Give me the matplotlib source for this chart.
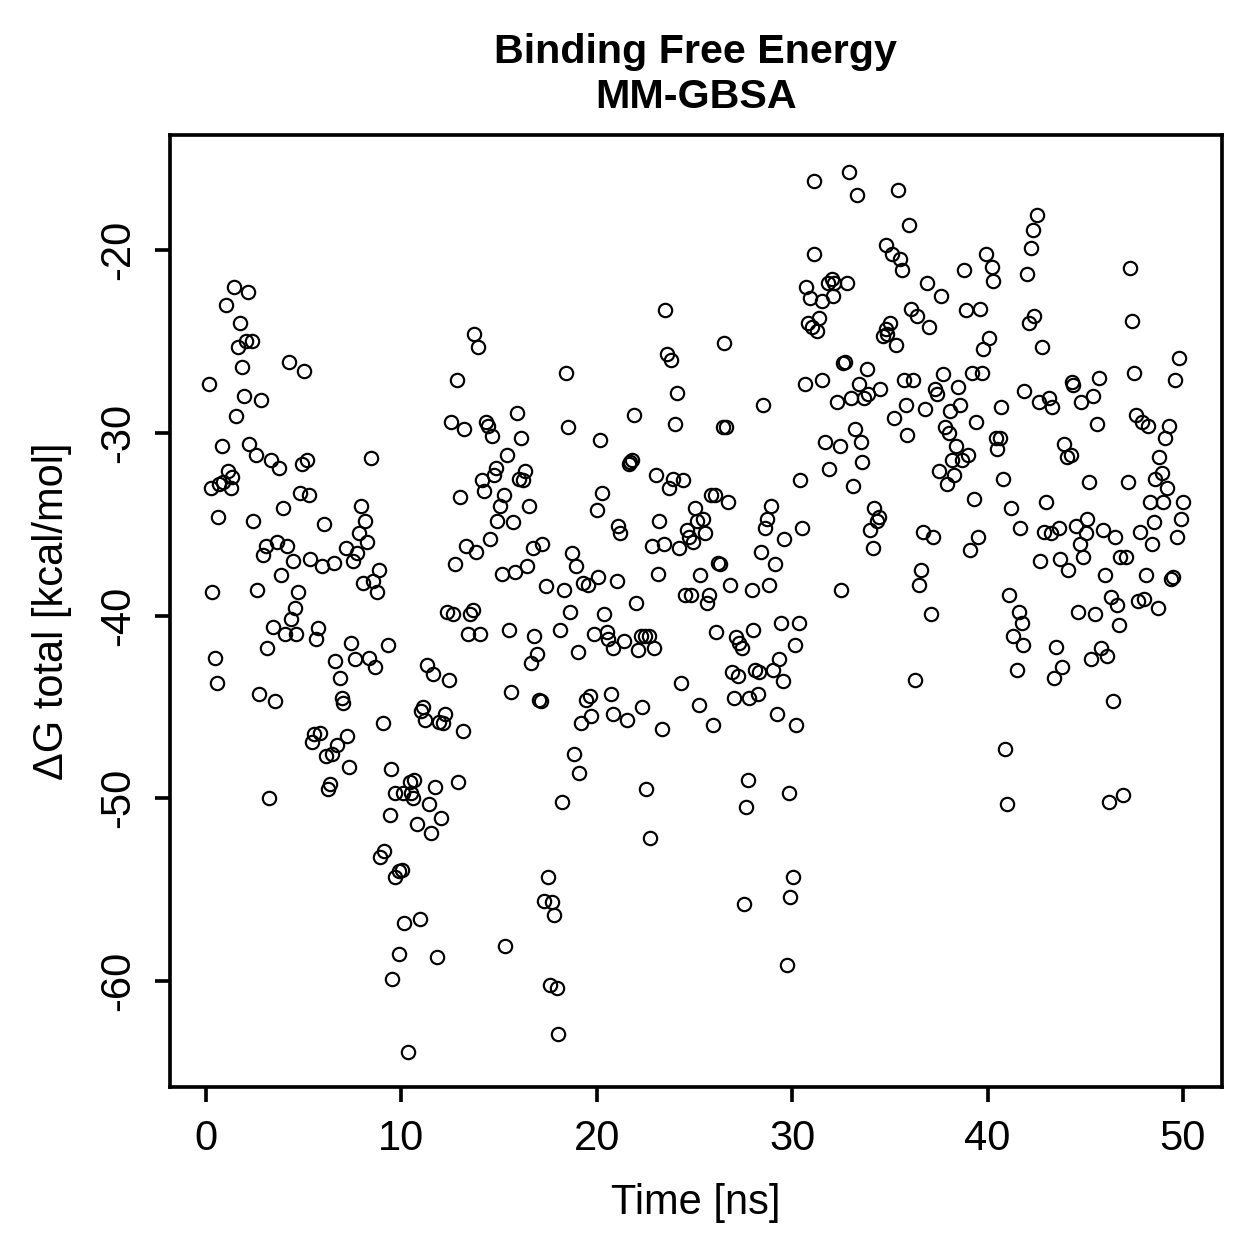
import matplotlib
matplotlib.use("Agg")
import matplotlib.pyplot as plt

plt.rcParams['font.family'] = ['Liberation Sans', 'DejaVu Sans']
plt.rcParams['axes.unicode_minus'] = False

#------- Data -------
# time [ns]
time_ns = [
    0.15, 0.26, 0.31, 0.61, 0.67, 0.82, 0.87, 1.02, 1.13, 1.28, 1.33, 1.43, 1.54, 1.64, 1.74, 1.84,
    1.94, 2.05, 2.15, 2.20, 2.35, 2.41, 2.56, 2.61, 2.81, 2.92, 3.07, 3.33, 3.63, 3.74, 3.84, 3.94,
    4.15, 4.25, 4.45, 4.55, 4.71, 4.81, 4.91, 5.02, 5.17, 5.27, 5.32, 5.94, 6.04, 6.55, 7.16, 7.52,
    7.73, 7.83, 7.93, 8.03, 8.14, 8.24, 8.44, 8.55, 8.75, 8.85,
    4.35, 3.43, 4.04, 4.61, 5.73, 5.63, 7.42, 9.31, 8.34, 8.65, 7.63, 6.60, 0.46, 3.12, 6.86, 0.56,
    2.71, 3.53, 6.96, 7.01, 9.06, 5.53, 5.83, 5.42, 7.22, 6.70, 6.45, 6.14, 7.32, 9.47, 6.35, 6.24,
    3.22, 9.67, 9.42, 9.11, 8.90, 10.03, 9.88, 9.67, 10.13, 9.88, 9.52,
    13.72, 13.92, 12.85, 18.42, 15.92, 12.54, 13.20, 14.33, 14.43, 14.64, 16.12, 18.53, 20.16, 15.40,
    14.84, 14.74, 16.32, 16.02, 16.22, 14.12, 13.00, 14.23, 15.25, 15.05, 16.53, 20.27, 20.01, 14.89,
    15.71, 14.53, 13.31, 13.82, 16.73, 17.20, 18.73, 18.94, 12.74, 15.15, 15.81, 16.43, 17.40, 18.32,
    19.29, 19.55, 20.06, 12.33, 12.64, 13.51, 13.66, 18.63, 20.37,
    13.41, 14.02, 15.51, 16.79, 18.12, 16.94, 16.63, 19.04, 19.86, 20.52, 20.57, 11.31, 11.62, 12.44,
    15.61, 17.04, 17.14, 19.45, 19.65, 19.70, 19.19, 20.73, 20.83, 11.11, 11.00, 11.21, 12.23, 11.92,
    12.13, 13.15, 18.83, 19.09, 10.64, 10.44, 10.08, 10.49, 10.59, 11.72, 12.90, 11.41, 12.03, 10.80,
    11.51, 18.22, 17.50, 17.30, 17.71, 17.81, 10.95, 15.30, 11.82, 17.60, 17.96, 18.01, 10.34,
    31.12, 31.12, 30.71, 30.91, 31.52, 30.81, 31.02, 31.37, 31.27, 30.66, 23.49, 23.59, 23.80, 26.51,
    24.10, 28.51, 21.90, 24.00, 26.46, 26.61, 21.65, 21.80, 21.70, 23.03, 23.90, 23.69, 24.41, 25.84,
    26.05, 26.71, 30.40, 25.03, 23.18, 25.13, 25.44, 28.92, 28.71, 28.61, 30.50, 29.58, 21.08, 21.19,
    24.62, 25.54, 24.72, 24.92, 24.21, 22.83, 23.44, 28.40, 29.12, 26.20, 26.31, 23.13, 25.28, 26.82,
    27.94, 28.81, 21.03, 22.01, 24.51, 24.82, 25.74, 25.64,
    29.43, 30.35, 20.83, 21.39, 22.26, 22.47, 22.67, 22.11, 22.93, 26.10, 27.12, 27.28, 27.43, 27.99,
    30.14, 29.32, 29.02, 29.53, 26.92, 27.23, 28.10, 28.30, 28.25, 27.79, 27.02, 24.31, 25.23, 25.95,
    29.22, 30.19, 21.55, 22.31, 23.34, 22.52, 27.74, 29.84, 27.64, 22.72, 30.04, 29.89, 27.53, 29.73,
    32.91, 33.32, 35.41, 35.98, 34.80, 35.11, 35.52, 35.62, 38.79, 39.92, 40.23, 40.28, 31.83, 32.04,
    32.14, 32.09, 32.80, 36.90, 37.62, 36.08, 36.39, 37.00, 38.89, 39.61, 40.07, 39.76, 34.80, 35.00,
    34.65, 34.85, 35.31, 32.60, 32.70, 33.83, 31.52, 33.42, 33.88, 33.67, 34.49, 32.29, 33.01, 35.72,
    36.18, 37.72, 37.31, 37.41, 38.48, 39.20, 39.71, 35.82, 36.80, 35.21, 38.08, 38.59, 39.41, 40.69,
    35.87, 37.82, 38.02, 38.38, 39.00, 38.18, 38.69, 37.51, 37.92, 38.28, 40.43, 40.63, 40.48, 40.79,
    33.21, 33.52, 31.68, 32.45, 33.57, 31.88, 33.11, 34.19, 34.44, 34.34, 33.98, 34.13, 36.69, 37.21,
    39.30, 41.20, 39.51, 39.10, 36.59, 36.49, 32.50, 41.09, 37.10, 41.86,
    41.30, 36.28, 40.89, 40.99,
    42.53, 42.32, 42.22, 42.02, 47.29, 42.37, 42.12, 42.78, 47.39, 49.80, 49.59, 47.49, 42.63, 43.14,
    43.30, 44.32, 44.37, 45.70, 45.39, 44.78, 45.60, 47.59, 47.90, 48.21, 49.28, 49.08, 43.91, 44.27,
    44.06, 48.77, 48.92, 48.57, 49.18, 45.19, 47.18, 42.99, 48.31, 48.98, 50.00, 49.90, 48.52, 49.69,
    48.41, 47.80, 41.66, 42.89, 43.24, 43.65, 44.52, 45.09, 45.04, 44.73, 44.88, 45.91, 46.52, 42.68,
    43.71, 44.11, 46.78, 47.08, 46.01, 48.11, 49.39, 49.49, 46.32, 46.62, 47.70, 48.00, 48.72, 44.63,
    45.50, 41.61,
    41.76, 46.72, 43.50, 45.80, 46.11, 45.29, 43.81, 43.40, 41.50, 46.42, 46.93, 46.21, 41.81,
]

# delta G total [kcal/mol]
dg_total = [
    -27.3, -33.0, -38.7, -34.6, -32.8, -30.7, -32.7, -23.0, -32.1, -33.0, -32.4, -22.0, -29.1, -25.3, -24.0, -26.4,
    -28.0, -25.0, -22.3, -30.6, -25.0, -34.8, -31.2, -38.6, -28.2, -36.7, -36.2, -31.5, -36.0, -31.9, -37.8, -34.1,
    -36.2, -26.1, -37.0, -39.6, -38.7, -33.3, -31.7, -26.6, -31.5, -33.4, -36.9, -37.3, -35.0, -37.1, -36.3, -37.0,
    -36.6, -35.5, -34.0, -38.2, -34.8, -36.0, -31.4, -38.1, -38.7, -37.5,
    -40.2, -40.6, -41.0, -41.0, -40.7, -41.3, -41.5, -41.6, -42.3, -42.8, -42.4, -42.5, -42.3, -41.8, -43.4, -43.7,
    -44.3, -44.7, -44.5, -44.8, -45.9, -46.5, -46.4, -46.9, -46.6, -47.1, -47.6, -47.7, -48.3, -48.4, -49.2, -49.5,
    -50.0, -49.7, -50.9, -52.9, -53.2, -53.9, -54.0, -54.3, -56.8, -58.5, -59.9,
    -24.6, -25.3, -27.1, -26.7, -28.9, -29.4, -29.8, -29.4, -29.6, -30.2, -30.3, -29.7, -30.4, -31.2,
    -31.9, -32.3, -32.1, -32.5, -32.6, -32.6, -33.5, -33.2, -33.4, -34.0, -34.0, -33.3, -34.2, -34.8,
    -34.9, -35.8, -36.2, -36.5, -36.3, -36.1, -36.6, -37.3, -37.2, -37.7, -37.6, -37.3, -38.4, -38.6,
    -38.2, -38.3, -37.9, -39.8, -39.9, -39.9, -39.7, -39.8, -39.9,
    -41.0, -41.0, -40.8, -41.1, -40.8, -42.1, -42.6, -42.0, -41.0, -40.9, -41.3, -42.7, -43.2, -43.5,
    -44.2, -44.6, -44.7, -44.6, -44.4, -45.5, -45.9, -44.3, -45.4, -45.0, -45.2, -45.7, -45.4, -45.8,
    -45.9, -46.3, -47.6, -48.6, -49.0, -49.1, -49.7, -49.7, -50.0, -49.4, -49.1, -50.3, -51.1, -51.4,
    -51.9, -50.2, -54.3, -55.6, -55.7, -56.4, -56.6, -58.1, -58.7, -60.2, -60.4, -62.9, -63.9,
    -16.2, -20.2, -22.0, -22.6, -22.8, -24.0, -24.2, -23.7, -24.4, -27.3, -23.3, -25.7, -26.0, -25.1,
    -27.8, -28.5, -29.0, -29.5, -29.7, -29.7, -31.7, -31.5, -31.6, -32.3, -32.5, -33.0, -32.6, -33.4,
    -33.4, -33.8, -32.6, -34.1, -34.8, -34.8, -34.7, -34.0, -34.7, -35.2, -35.2, -35.8, -35.1, -35.5,
    -35.3, -35.5, -35.7, -36.0, -36.3, -36.2, -36.1, -36.5, -37.2, -37.1, -37.2, -37.7, -37.8, -38.3,
    -38.6, -38.3, -38.1, -39.3, -38.9, -38.9, -38.9, -39.3,
    -40.4, -40.4, -41.8, -41.4, -41.1, -41.1, -41.1, -41.9, -41.8, -40.9, -41.2, -41.5, -41.8, -40.8,
    -41.6, -42.4, -43.0, -43.6, -43.1, -43.3, -43.0, -43.1, -44.3, -44.5, -44.5, -43.7, -44.9, -46.0,
    -45.4, -46.0, -45.7, -45.0, -46.2, -49.5, -49.0, -49.7, -50.5, -52.2, -54.3, -55.4, -55.8, -59.1,
    -15.7, -17.0, -16.7, -18.6, -19.7, -20.2, -20.5, -21.1, -21.1, -20.2, -20.9, -21.7, -21.8, -21.6,
    -21.8, -22.5, -21.8, -21.8, -22.5, -23.2, -23.6, -24.2, -23.3, -23.2, -24.8, -25.4, -24.3, -24.0,
    -24.7, -24.6, -25.2, -26.2, -26.1, -26.5, -27.1, -27.3, -27.9, -28.1, -27.6, -28.3, -28.1, -27.1,
    -27.1, -26.8, -27.6, -27.9, -27.5, -26.7, -26.7, -28.5, -28.7, -29.2, -28.8, -28.5, -29.4, -28.6,
    -30.1, -29.7, -30.0, -30.7, -31.2, -31.5, -31.5, -32.1, -32.8, -32.3, -30.3, -30.3, -30.9, -32.5,
    -29.8, -30.5, -30.5, -30.7, -31.6, -32.0, -32.9, -34.1, -34.6, -34.8, -35.3, -36.3, -35.4, -35.7,
    -33.6, -34.1, -35.7, -36.4, -37.5, -38.3, -38.6, -38.9, -39.9, -27.7,
    -41.1, -43.5, -47.3, -50.3,
    -18.1, -18.9, -19.9, -21.3, -21.0, -23.6, -24.0, -25.3, -23.9, -25.9, -27.1, -26.7, -28.3, -28.1,
    -28.6, -27.2, -27.4, -27.0, -28.0, -28.3, -29.5, -29.0, -29.4, -29.6, -29.6, -30.3, -30.6, -31.2,
    -31.3, -31.3, -32.2, -32.5, -33.0, -32.7, -32.7, -33.8, -33.8, -33.8, -33.8, -34.7, -34.9, -35.7,
    -36.1, -35.4, -35.2, -35.4, -35.5, -35.2, -35.1, -34.7, -35.5, -36.1, -36.8, -35.3, -35.7, -37.0,
    -36.9, -37.5, -36.8, -36.8, -37.8, -37.8, -38.0, -37.9, -39.0, -39.4, -39.2, -39.1, -39.6, -39.8,
    -39.9, -39.8,
    -40.4, -40.5, -41.7, -41.8, -42.2, -42.4, -42.8, -43.4, -43.0, -44.7, -49.8, -50.2, -41.6,
]

title_text = "Binding Free Energy\nMM-GBSA"
x_label = "Time [ns]"
y_label = "ΔG total [kcal/mol]"
x_ticks = [0, 10, 20, 30, 40, 50]
y_ticks = [-60, -50, -40, -30, -20]

#------- Figure -------
W = 1259
fig = plt.figure(figsize=(W / 240, W / 240), dpi=240)
ax = fig.add_axes([170 / W, 1 - 1087 / W, (1222 - 170) / W, (1087 - 135) / W])

ax.plot(time_ns, dg_total, 'o', mfc='none', mec='black', ms=4.0, mew=0.65)

ax.set_xlim(-1.84, 52.0)
ax.set_ylim(-65.8, -13.7)
ax.set_xticks(x_ticks)
ax.set_yticks(y_ticks)
ax.tick_params(direction='out', length=4.5, width=1.1, labelsize=12.5, pad=5)
for lbl in ax.get_yticklabels():
    lbl.set_rotation(90)
    lbl.set_va('center')
for sp in ax.spines.values():
    sp.set_linewidth(1.1)

ax.set_title(title_text, fontsize=12.4, fontweight='bold', linespacing=1.25, pad=8)
ax.set_xlabel(x_label, fontsize=12.5)
ax.set_ylabel(y_label, fontsize=12.5)
ax.xaxis.set_label_coords(0.5, -0.122)
ax.xaxis.label.set_va('center')
ax.yaxis.set_label_coords(-0.112, 0.5)
ax.yaxis.label.set_va('center')

fig.savefig('out.png', dpi=240)
